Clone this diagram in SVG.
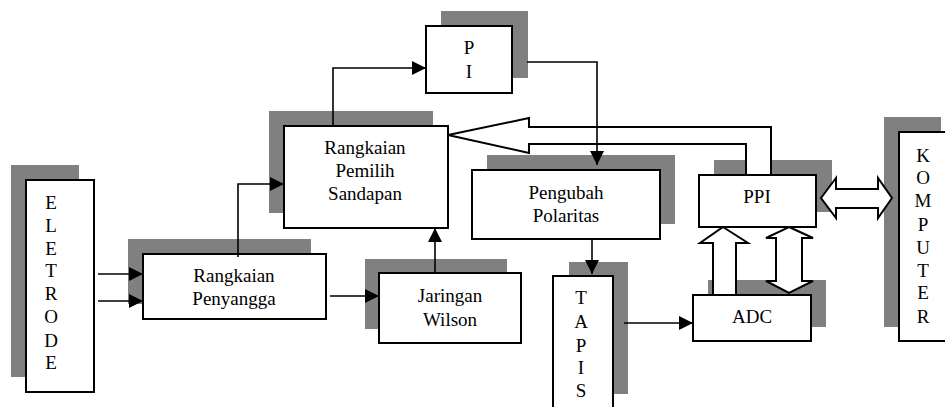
<svg xmlns="http://www.w3.org/2000/svg" width="945" height="407" viewBox="0 0 945 407">
<defs>
<marker id="ah" markerUnits="userSpaceOnUse" markerWidth="16" markerHeight="14" refX="14" refY="7" orient="auto">
<path d="M0,0 L14,7 L0,14 Z" fill="#000"/>
</marker>
<style>
.sh{fill:#808080;stroke:none}
.bx{fill:#fff;stroke:#000;stroke-width:2}
text{font-family:'Liberation Serif','Times New Roman','DejaVu Serif',serif;font-size:19px;fill:#000;text-anchor:middle}
.ln{fill:none;stroke:#000;stroke-width:1.6}
.ha{fill:#fff;stroke:#000;stroke-width:2;stroke-linejoin:miter}
</style>
</defs>
<rect width="945" height="407" fill="#fff"/>

<g id="eletrode" font-family="Liberation Serif, serif">
<rect class="sh" x="11" y="165" width="68" height="212"/>
<rect class="bx" x="26" y="180" width="68" height="212"/>
<text x="51" y="209">E</text>
<text x="51" y="232">L</text>
<text x="51" y="255">E</text>
<text x="51" y="277">T</text>
<text x="51" y="300">R</text>
<text x="51" y="323">O</text>
<text x="51" y="347">D</text>
<text x="51" y="369">E</text>
</g>

<g id="penyangga">
<rect class="sh" x="128" y="239" width="183" height="65"/>
<rect class="bx" x="143" y="254" width="183" height="65"/>
<text x="234" y="282">Rangkaian</text>
<text x="234" y="305">Penyangga</text>
</g>

<g id="pemilih">
<rect class="sh" x="269" y="111" width="164" height="102"/>
<rect class="bx" x="284" y="126" width="164" height="102"/>
<text x="365" y="154">Rangkaian</text>
<text x="365" y="177">Pemilih</text>
<text x="365" y="200">Sandapan</text>
</g>

<g id="pi">
<rect class="sh" x="441" y="11" width="87" height="67"/>
<rect class="bx" x="426" y="26" width="86" height="67"/>
<text x="469" y="54">P</text>
<text x="469" y="78">I</text>
</g>

<g id="wilson">
<rect class="sh" x="365" y="259" width="142" height="70"/>
<rect class="bx" x="379" y="273" width="142" height="70"/>
<text x="450" y="302">Jaringan</text>
<text x="450" y="326">Wilson</text>
</g>

<g id="pengubah">
<rect class="sh" x="487" y="155" width="188" height="69"/>
<rect class="bx" x="472" y="170" width="188" height="69"/>
<text x="566" y="199">Pengubah</text>
<text x="566" y="222">Polaritas</text>
</g>

<g id="tapis">
<rect class="sh" x="569" y="262" width="59" height="132"/>
<rect class="bx" x="553" y="276" width="60" height="140"/>
<text x="581" y="304">T</text>
<text x="581" y="328">A</text>
<text x="581" y="352">P</text>
<text x="581" y="374">I</text>
<text x="581" y="397">S</text>
</g>

<g id="ppi">
<rect class="sh" x="714" y="160" width="118" height="52"/>
<rect class="bx" x="699" y="175" width="117" height="52"/>
<text x="757" y="203">PPI</text>
</g>

<g id="adc">
<rect class="sh" x="708" y="280" width="118" height="47"/>
<rect class="bx" x="693" y="295" width="118" height="46"/>
<text x="752" y="323">ADC</text>
</g>

<g id="komputer">
<rect class="sh" x="884" y="117" width="57" height="210"/>
<rect class="bx" x="899" y="132" width="60" height="209"/>
<text x="923" y="162">K</text>
<text x="923" y="184">O</text>
<text x="923" y="207">M</text>
<text x="923" y="231">P</text>
<text x="923" y="254">U</text>
<text x="923" y="277">T</text>
<text x="923" y="299">E</text>
<text x="923" y="323">R</text>
</g>

<g id="connectors">
<path class="ha" d="M448,135 L529,118 L529,127 L771,127 L771,175 L746,175 L746,144 L529,144 L529,153 Z"/>
<path class="ha" d="M723,227 L748,243 L736,243 L736,295 L713,295 L713,243 L700,243 Z"/>
<path class="ha" d="M789,227 L813,238 L802,238 L802,281 L813,281 L789,293 L766,281 L776,281 L776,238 L766,238 Z"/>
<path class="ha" d="M821,198 L836,178 L836,189 L878,189 L878,178 L892,198 L878,218 L878,208 L836,208 L836,218 Z"/>
<path class="ln" d="M98,274 H143" marker-end="url(#ah)"/>
<path class="ln" d="M98,301 H143" marker-end="url(#ah)"/>
<path class="ln" d="M238,257 V184 H284" marker-end="url(#ah)"/>
<path class="ln" d="M330,296 H379" marker-end="url(#ah)"/>
<path class="ln" d="M435,273 V228" marker-end="url(#ah)"/>
<path class="ln" d="M333,127 V68 H426" marker-end="url(#ah)"/>
<path class="ln" d="M527,62 H597 V165" marker-end="url(#ah)"/>
<path class="ln" d="M592,240 V274" marker-end="url(#ah)"/>
<path class="ln" d="M624,323 H693" marker-end="url(#ah)"/>
</g>
</svg>
